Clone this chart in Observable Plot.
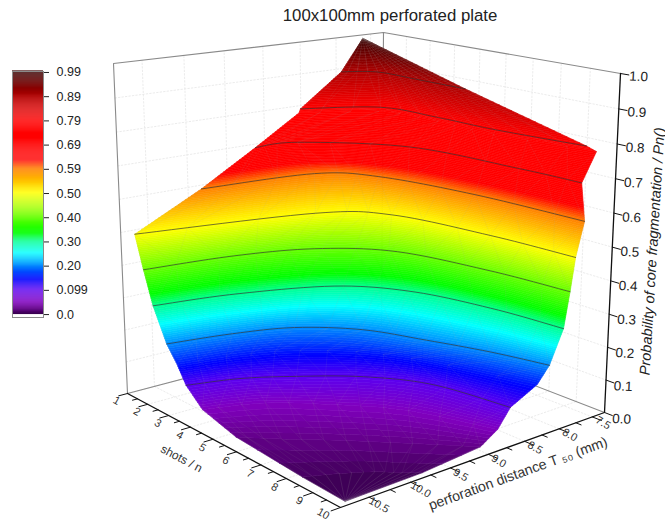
<!DOCTYPE html>
<html><head><meta charset="utf-8">
<script src="https://cdn.jsdelivr.net/npm/d3@7"></script>
<script src="https://cdn.jsdelivr.net/npm/@observablehq/plot@0.6"></script>
<style>
html,body{margin:0;padding:0;background:#fff;overflow:hidden}
#wrap{position:relative;width:665px;height:520px;font-family:"Liberation Sans",Arial,sans-serif}
#wrap svg{position:absolute;left:0;top:0;background:transparent}
#title{position:absolute;left:0;top:6px;width:780px;text-align:center;font-size:16.8px;color:#222}
</style></head><body>
<div id="wrap"><div id="title">100x100mm perforated plate</div></div>
<script>
// iso-probability levels of the surface, and for each the (shots, distance) points it passes through
const levels   = [0, 0.005, 0.02, 0.05, 0.099, 0.15, 0.198, 0.297, 0.396, 0.495, 0.594, 0.693, 0.78, 0.792, 0.891, 0.99];
const shotsAt = [
  [9.82],
  [8.25,8.65,9.10,9.55,9.85],
  [5.59,6.40,7.48,8.65,9.85],
  [4.15,4.78,6.04,7.48,9.80],
  [3.43,3.88,4.60,5.77,7.35,9.75],
  [3.04,3.43,4.10,5.30,7.00,9.90],
  [2.58,2.98,3.60,4.87,6.58,8.29,9.94],
  [1.99,2.49,3.61,5.32,7.75,9.99],
  [1.59,1.99,2.80,4.38,7.30,9.90],
  [1.23,2.44,3.88,7.12,9.95],
  [1.18,1.63,3.03,6.22,9.95],
  [1.14,1.30,3.70,7.48,9.60],
  [1.09,2.30,4.42,6.58,9.73],
  [1.09,2.30,4.42,6.58,9.46],
  [1.05,1.72,3.43,5.23],
  [1.05]
];
const distAt = [
  [10.72],
  [10.72,10.41,10.13,9.95,9.80],
  [10.72,10.41,9.95,9.50,9.05],
  [10.72,10.13,9.60,9.15,8.80],
  [10.72,10.20,9.75,9.19,8.78,8.61],
  [10.72,10.10,9.55,9.04,8.67,8.30],
  [10.72,10.02,9.40,8.89,8.59,8.33,8.15],
  [10.72,9.84,8.84,8.33,8.08,7.985],
  [10.72,9.70,8.86,8.26,7.98,7.87],
  [10.72,8.75,8.15,7.91,7.83],
  [9.88,8.51,8.05,7.80,7.72],
  [9.16,8.64,7.84,7.66,7.63],
  [8.55,7.81,7.69,7.69,7.49],
  [8.53,7.78,7.68,7.66,7.52],
  [7.94,7.63,7.61,7.60],
  [7.63]
];
const contourLevels = [0.099,0.198,0.297,0.396,0.495,0.594,0.693,0.792,0.891];
const shotTicks = [1,2,3,4,5,6,7,8,9,10];
const distTicks = [10.5,10,9.5,9,8.5,8,7.5];
const distLabels = ["10.5","10.0","9.5","9.0","8.5","8.0","7.5"];
const probTicks = [0,0.1,0.2,0.3,0.4,0.5,0.6,0.7,0.8,0.9,1];
const barTicks  = [0,0.099,0.198,0.297,0.396,0.495,0.594,0.693,0.792,0.891,0.99];
const barLabels = ["0.0","0.099","0.20","0.30","0.40","0.50","0.59","0.69","0.79","0.89","0.99"];
const colorStops = [0,0.02,0.05,0.099,0.14,0.2,0.25,0.297,0.33,0.495,0.594,0.63,0.79,0.89,0.99];
const colorHex = ["#3a0050","#620088","#8000c0","#5a00f0","#0000ff","#0090ff","#00ffff","#00ff90","#00ff00","#ffff00","#ff8000","#ff0000","#ff0000","#b00000","#3a0000"];

// view of the 3-D box
const cam = {floor:[[127,393],[340,507],[604,412],[381,326]], top:[[113,63],[338,117],[620,73],[383,32]]};
const shotRange=[1,10], distRange=[10.83,7.31];
function homography(q){
  const [[x0,y0],[x1,y1],[x2,y2],[x3,y3]]=q;
  const dx1=x1-x2,dx2=x3-x2,sx=x0-x1+x2-x3,dy1=y1-y2,dy2=y3-y2,sy=y0-y1+y2-y3;
  const den=dx1*dy2-dx2*dy1, g=(sx*dy2-dx2*sy)/den, h=(dx1*sy-sx*dy1)/den;
  const a=x1-x0+g*x1,b=x3-x0+h*x3,d=y1-y0+g*y1,e=y3-y0+h*y3;
  return (u,v)=>{const w=g*u+h*v+1;return [(a*u+b*v+x0)/w,(d*u+e*v+y0)/w];};
}
const hFloor=homography(cam.floor), hTop=homography(cam.top);
const uOf=s=>(s-shotRange[0])/(shotRange[1]-shotRange[0]);
const vOf=d=>(distRange[0]-d)/(distRange[0]-distRange[1]);
function projUV(u,v,p){
  const f=hFloor(u,v), t=hTop(u,v), g=p/(p+1.05*(1-p));
  return [f[0]+(t[0]-f[0])*g, f[1]+(t[1]-f[1])*g];
}
const proj=(s,d,p)=>projUV(uOf(s),vOf(d),p);

// smooth resampling of each iso-level along its length
const M=48;
function sample(arr,t){
  const n=arr.length; if(n===1) return arr[0];
  const f=t*(n-1), i=Math.min(n-2,Math.floor(f)), w=f-i;
  const p0=arr[Math.max(0,i-1)],p1=arr[i],p2=arr[i+1],p3=arr[Math.min(n-1,i+2)];
  return 0.5*((2*p1)+(-p0+p2)*w+(2*p0-5*p1+4*p2-p3)*w*w+(-p0+3*p1-3*p2+p3)*w*w*w);
}
const rows=levels.map((p,i)=>d3.range(M+1).map(k=>({s:sample(shotsAt[i],k/M),d:sample(distAt[i],k/M),p})));

// colour strips
const strip=[];
let sid=0;
for(let i=0;i<levels.length-1;i++){
  const lo=rows[i],hi=rows[i+1],dP=levels[i+1]-levels[i],n=Math.max(1,Math.ceil(dP/0.005));
  for(let b=0;b<n;b++){
    const f0=b/n,f1=(b+1)/n,pm=levels[i]+dP*(b+0.5)/n;
    const poly=[];
    for(let k=0;k<=M;k++){poly.push(proj(lo[k].s+(hi[k].s-lo[k].s)*f0,lo[k].d+(hi[k].d-lo[k].d)*f0,levels[i]+dP*f0));}
    for(let k=M;k>=0;k--){poly.push(proj(lo[k].s+(hi[k].s-lo[k].s)*f1,lo[k].d+(hi[k].d-lo[k].d)*f1,levels[i]+dP*f1));}
    poly.push(poly[0]);
    poly.forEach(q=>strip.push({x:q[0],y:q[1],id:sid,p:pm}));
    sid++;
  }
}
// contours
const contour=[];
contourLevels.forEach(c=>{const i=levels.indexOf(c);rows[i].forEach(r=>{const q=proj(r.s,r.d,r.p);contour.push({x:q[0],y:q[1],id:c});});});
// faint triangular mesh on the surface
const mesh=[];let mid=0;
for(let k=0;k<=12;k++){
  const t=Math.round(k*M/12);
  rows.forEach(r=>{const q=proj(r[t].s,r[t].d,r[t].p);mesh.push({x:q[0],y:q[1],id:mid});});mid++;
  if(k<12){
    const t2=Math.round((k+1)*M/12);
    rows.forEach((r,j)=>{const e=(j%2)?r[t]:r[t2];const q=proj(e.s,e.d,e.p);mesh.push({x:q[0],y:q[1],id:mid});});mid++;
  }
}
// box, walls, floor
const seg=(arr,list,id)=>{list.forEach(q=>arr.push({x:q[0],y:q[1],id}));};
const grid=[];let gid=0;
probTicks.slice(1,-1).forEach(p=>{seg(grid,[projUV(0,0,p),projUV(0,1,p)],gid++);seg(grid,[projUV(0,1,p),projUV(1,1,p)],gid++);});
distTicks.forEach(d=>{const v=vOf(d);seg(grid,[projUV(0,v,0),projUV(0,v,1)],gid++);seg(grid,[projUV(0,v,0),projUV(1,v,0)],gid++);});
shotTicks.forEach(s=>{const u=uOf(s);seg(grid,[projUV(u,1,0),projUV(u,1,1)],gid++);seg(grid,[projUV(u,0,0),projUV(u,1,0)],gid++);});
const box=[];
seg(box,[projUV(0,0,0),projUV(0,0,1),projUV(0,1,1),projUV(1,1,1)],0);
seg(box,[projUV(0,0,0),projUV(0,1,0),projUV(1,1,0)],1);
seg(box,[projUV(0,1,0),projUV(0,1,1)],2);
const axes=[];
seg(axes,[projUV(0,0,0),projUV(1,0,0),projUV(1,1,0),projUV(1,1,1)],0);
const ticks=[];let tid=0;
d3.range(1,10.01,0.5).forEach(s=>{const u=uOf(s),maj=Number.isInteger(s);seg(ticks,[projUV(u,0,0),projUV(u,maj?-0.03:-0.017,0)],tid++);});
d3.range(7.5,10.51,0.25).forEach(d=>{const v=vOf(d),maj=Number.isInteger(d*2);seg(ticks,[projUV(1,v,0),projUV(maj?1.035:1.02,v,0)],tid++);});
probTicks.forEach(p=>{seg(ticks,[projUV(1,1,p),projUV(1.03,1,p)],tid++);});
const shotText=shotTicks.map(s=>{const u=uOf(s);const q=projUV(u+0.03*(1-Math.pow(u,6)),-0.055,0);return {x:q[0],y:q[1],t:String(s)};});
const distText=distTicks.map((d,i)=>{const q=projUV(1.05,vOf(d)-0.01,0);return {x:q[0],y:q[1],t:distLabels[i]};});
const probText=probTicks.map(p=>{const q=projUV(1.065,1,p);return {x:q[0],y:q[1],t:p.toFixed(1)};});
const shotTitle=(()=>{const q=projUV(uOf(5.5),-0.14,0);return [{x:q[0],y:q[1],t:"shots / n"}];})();
const distTitle=(()=>{const q=projUV(1.14,vOf(9.1),0);return [{x:q[0],y:q[1],t:"perforation distance T \u2085\u2080 (mm)"}];})();
const probTitle=(()=>{const q=projUV(1.145,1,0.52);return [{x:q[0],y:q[1],t:"Probability of core fragmentation / Pn()"}];})();

const font="Liberation Sans, Arial, sans-serif";
const colorScale={type:"linear",domain:colorStops,range:colorHex};
const chart=Plot.plot({
  width:665,height:520,marginTop:0,marginRight:0,marginBottom:0,marginLeft:0,
  style:{fontFamily:font,background:"transparent"},
  x:{domain:[0,665],range:[0,665],axis:null},
  y:{domain:[0,520],range:[0,520],axis:null},
  color:colorScale,
  marks:[
    Plot.line(grid,{x:"x",y:"y",z:"id",stroke:"#e2e2e2",strokeWidth:0.7,strokeDasharray:"1.5,2"}),
    Plot.line(box,{x:"x",y:"y",z:"id",stroke:"#8a8a8a",strokeWidth:1.1}),
    Plot.line(strip,{x:"x",y:"y",z:"id",fill:"p",stroke:"p",strokeWidth:0.6}),
    Plot.line(mesh,{x:"x",y:"y",z:"id",stroke:"#9a9a9a",strokeOpacity:0.13,strokeWidth:0.7}),
    Plot.line(contour,{x:"x",y:"y",z:"id",stroke:"#303030",strokeOpacity:0.75,strokeWidth:0.9}),
    Plot.line(axes,{x:"x",y:"y",z:"id",stroke:"#111",strokeWidth:1.3}),
    Plot.line(ticks,{x:"x",y:"y",z:"id",stroke:"#111",strokeWidth:1}),
    Plot.text(shotText,{x:"x",y:"y",text:"t",rotate:30,fontSize:11,fill:"#333"}),
    Plot.text(distText,{x:"x",y:"y",text:"t",rotate:30,fontSize:11,fill:"#333"}),
    Plot.text(probText,{x:"x",y:"y",text:"t",rotate:3,fontSize:13.5,fill:"#222"}),
    Plot.text(shotTitle,{x:"x",y:"y",text:"t",rotate:28,fontSize:12,fill:"#333"}),
    Plot.text(distTitle,{x:"x",y:"y",text:"t",rotate:-20,fontSize:14.2,fill:"#333"}),
    Plot.text(probTitle,{x:"x",y:"y",text:"t",rotate:-86.5,fontSize:14.5,fontStyle:"italic",fill:"#222"})
  ]
});
document.getElementById("wrap").appendChild(chart);

// colour bar
const barBands=d3.range(0,0.994,0.004).map(v=>({y1:v,y2:v+0.0045,p:v}));
const legend=Plot.plot({
  width:110,height:340,marginLeft:12,marginRight:67,marginTop:71,marginBottom:23,
  style:{fontFamily:font,background:"transparent",fontSize:"12px"},
  x:{domain:[0,1],axis:null},
  y:{domain:[-0.012,0.994],axis:null},
  color:colorScale,
  marks:[
    Plot.rect(barBands,{x1:0,x2:1,y1:"y1",y2:"y2",fill:"p"}),
    Plot.frame({stroke:"#8a8a8a",strokeWidth:1}),
    Plot.axisY({anchor:"right",ticks:barTicks,tickFormat:v=>barLabels[barTicks.indexOf(v)],tickSize:5,tickPadding:8,fontSize:12.5,label:null,color:"#222"})
  ]
});
document.getElementById("wrap").appendChild(legend);
</script></body></html>
